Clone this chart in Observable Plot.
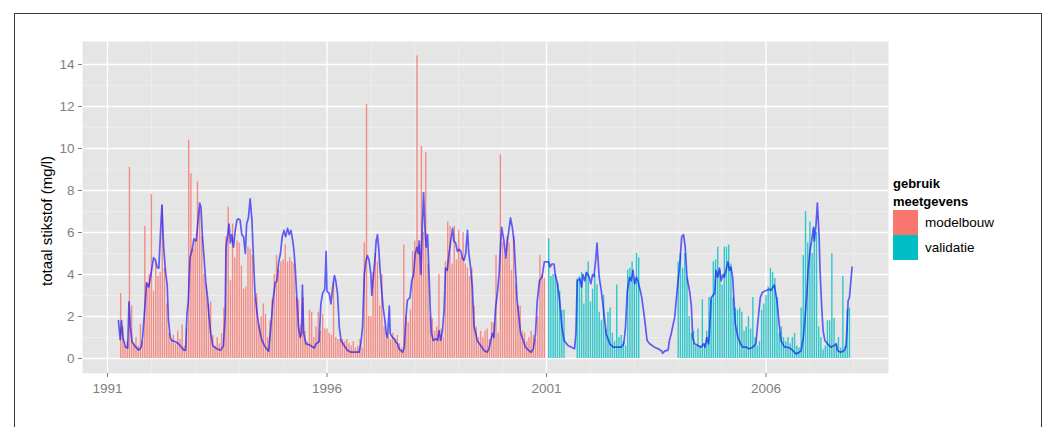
<!DOCTYPE html>
<html><head><meta charset="utf-8">
<script src="https://cdn.jsdelivr.net/npm/d3@7"></script>
<script src="https://cdn.jsdelivr.net/npm/@observablehq/plot@0.6"></script>
<style>
html,body{margin:0;padding:0;background:#fff;}
#wrap{position:relative;width:1053px;height:427px;overflow:hidden;font-family:"Liberation Sans",Arial,sans-serif;}
#border{position:absolute;left:14px;top:13px;width:1028px;height:440px;border:1.5px solid #3a3a3a;box-sizing:border-box;}
#chart{position:absolute;left:0;top:0;}
#ylab{position:absolute;left:46px;top:221px;transform:translate(-50%,-50%) rotate(-90deg);font-size:15px;white-space:nowrap;color:#000;}
#legtitle{position:absolute;left:893px;top:175px;font-size:13px;font-weight:bold;line-height:18px;color:#000;}
.key{position:absolute;left:893px;width:25px;height:25px;}
.klab{position:absolute;left:925px;font-size:13.5px;color:#000;line-height:16px;}
</style>
</head><body>
<div id="wrap">
  <div id="border"></div>
  <div id="chart"></div>
  <div id="ylab">totaal stikstof (mg/l)</div>
  <div id="legtitle">gebruik<br>meetgevens</div>
  <div id="legend"></div>
</div>
<script>
// ---- categories / scales text ----
const groups = ["modelbouw", "validatie"];
const groupColors = ["#F8766D", "#00BFC4"];
const majorYears = [1991, 1996, 2001, 2006];
const minorYears = [1992,1993,1994,1995,1997,1998,1999,2000,2002,2003,2004,2005,2007,2008];
const yTicks = [0, 2, 4, 6, 8, 10, 12, 14];
const yMinor = [1, 3, 5, 7, 9, 11, 13];
const splitYear = 2001; // measurements before: modelbouw, after: validatie

// ---- measured values (bars), 20 samples per year (step 0.05 yr) ----
const barStep = 0.05;
const bars1991 = [null,null,null,null,null,null,3.1,1.5,0.6,0.8,9.1,2.5,0.7,1.0,0.6,1.6,0.8,6.3,3.6,4.0];
const bars1992 = [7.8,3.2,4.5,3.9,4.1,7.3,4.3,2.6,1.2,0.9,1.1,0.7,1.3,0.9,1.6,0.6,1.4,10.4,8.8,5.2];
const bars1993 = [5.6,8.4,7.1,5.8,4.0,3.5,2.6,2.7,1.1,0.6,1.0,0.7,1.2,2.4,5.8,7.2,3.7,6.4,4.8,5.6];
const bars1994 = [5.5,4.4,3.3,3.4,5.3,5.2,4.9,2.9,3.1,1.6,2.0,2.6,2.1,1.0,1.8,2.8,4.0,4.9,4.2,4.6];
const bars1995 = [4.7,5.4,4.6,4.8,4.6,4.5,2.9,2.8,1.6,2.9,1.3,0.8,2.3,2.2,1.0,1.5,2.2,1.3,2.1,1.4];
const bars1996 = [1.4,1.2,1.1,3.6,1.0,0.9,0.9,0.9,0.8,0.9,0.7,0.6,0.8,0.5,0.6,0.9,0.5,5.5,12.1,2.0];
const bars1997 = [2.0,4.1,5.0,4.6,2.5,4.0,1.5,1.2,1.0,0.9,1.2,0.9,1.1,0.7,0.5,5.4,2.0,1.7,2.3,5.1];
const bars1998 = [5.6,14.4,5.4,10.1,6.0,9.8,4.5,2.0,1.9,1.3,1.5,4.0,1.4,1.0,4.6,6.5,6.3,4.5,6.3,4.7];
const bars1999 = [6.1,4.8,6.0,4.5,4.3,3.9,4.3,2.5,1.5,1.0,1.3,1.0,1.3,1.4,0.9,1.7,1.7,4.9,1.2,9.7];
const bars2000 = [5.5,4.8,5.8,5.5,4.2,5.8,3.5,2.5,2.5,1.3,1.2,0.8,1.0,1.3,1.1,0.9,2.0,4.9,4.0,3.8];
const bars2001 = [null,5.7,3.9,4.0,4.0,3.6,3.2,2.3,2.3,null,null,null,null,null,3.8,3.9,4.1,2.6,4.1,4.6];
const bars2002 = [2.7,3.3,4.0,3.5,2.2,1.8,3.0,1.4,2.2,2.4,1.2,0.8,3.5,1.0,1.1,0.8,0.6,4.2,4.3,4.6];
const bars2003 = [3.8,5.0,4.8,null,null,null,null,null,null,null,null,null,null,null,null,null,null,null,null,null];
const bars2004 = [4.6,5.0,4.3,5.0,3.8,2.0,1.2,1.3,0.6,1.4,0.6,2.8,0.7,1.3,2.9,2.8,4.6,4.7,5.3,4.2];
const bars2005 = [3.5,5.3,5.3,5.4,4.5,2.9,2.4,2.3,2.4,2.2,1.3,1.5,2.0,1.4,2.9,1.0,0.6,0.8,2.3,2.6];
const bars2006 = [3.0,3.4,4.3,4.1,3.8,2.9,1.2,1.5,1.0,0.8,1.0,0.7,1.0,1.2,0.6,0.5,2.4,4.9,7.0,5.5];
const bars2007 = [6.5,5.0,6.2,6.0,1.5,1.0,0.4,0.6,1.8,1.8,5.0,1.9,0.7,1.0,0.5,3.9,0.6,2.3,2.4,null];
const barYears = [
  [1991,bars1991],[1992,bars1992],[1993,bars1993],[1994,bars1994],[1995,bars1995],
  [1996,bars1996],[1997,bars1997],[1998,bars1998],[1999,bars1999],[2000,bars2000],
  [2001,bars2001],[2002,bars2002],[2003,bars2003],[2004,bars2004],[2005,bars2005],
  [2006,bars2006],[2007,bars2007]
];

// ---- simulated concentration (line), [decimal year, value] ----
const line1991 = [[1991.25,1.8],[1991.29,0.9],[1991.32,1.8],[1991.35,1.0],[1991.41,0.55],[1991.46,0.5],[1991.49,2.7],[1991.52,1.5],[1991.56,0.8],[1991.64,0.55],[1991.71,0.4],[1991.77,0.55],[1991.80,1.0],[1991.85,2.4],[1991.89,3.6],[1991.94,3.4],[1991.98,3.9]];
const line1992 = [[1992.02,4.4],[1992.05,4.8],[1992.09,4.7],[1992.13,4.35],[1992.17,4.3],[1992.21,6.1],[1992.24,7.3],[1992.28,5.3],[1992.32,4.2],[1992.36,3.5],[1992.39,1.8],[1992.43,1.0],[1992.47,0.85],[1992.55,0.8],[1992.62,0.7],[1992.68,0.55],[1992.74,0.4],[1992.78,0.4],[1992.81,2.1],[1992.84,2.7],[1992.88,4.8],[1992.93,5.2],[1992.97,5.7]];
const line1993 = [[1993.02,5.6],[1993.06,6.5],[1993.10,7.4],[1993.13,7.2],[1993.16,5.9],[1993.21,4.5],[1993.24,3.6],[1993.28,2.9],[1993.31,2.1],[1993.35,1.2],[1993.40,0.6],[1993.50,0.45],[1993.58,0.4],[1993.64,0.6],[1993.68,2.0],[1993.70,5.3],[1993.74,5.9],[1993.77,6.4],[1993.80,5.5],[1993.83,5.9],[1993.87,5.3],[1993.91,6.1],[1993.95,6.6],[1993.98,6.65]];
const line1994 = [[1994.02,6.6],[1994.06,5.9],[1994.10,5.8],[1994.14,5.0],[1994.17,6.4],[1994.21,6.7],[1994.25,7.6],[1994.29,6.6],[1994.33,4.5],[1994.36,3.1],[1994.40,2.3],[1994.44,1.65],[1994.48,1.2],[1994.52,0.85],[1994.59,0.55],[1994.67,0.35],[1994.70,1.0],[1994.74,2.0],[1994.77,2.8],[1994.82,3.6],[1994.86,3.7],[1994.90,4.6],[1994.94,5.0],[1994.98,5.8]];
const line1995 = [[1995.02,6.1],[1995.06,5.8],[1995.10,6.2],[1995.14,5.9],[1995.18,6.1],[1995.22,5.6],[1995.25,5.1],[1995.28,4.2],[1995.31,3.0],[1995.35,1.5],[1995.39,1.0],[1995.42,1.2],[1995.44,3.5],[1995.47,1.2],[1995.52,0.7],[1995.60,0.65],[1995.71,0.5],[1995.75,0.7],[1995.82,0.8],[1995.86,2.6],[1995.90,3.1],[1995.95,3.3],[1995.98,5.1]];
const line1996 = [[1996.00,3.2],[1996.05,3.1],[1996.09,2.6],[1996.13,3.4],[1996.17,3.95],[1996.20,3.7],[1996.24,3.1],[1996.28,1.5],[1996.32,0.86],[1996.39,0.62],[1996.47,0.38],[1996.55,0.3],[1996.66,0.3],[1996.73,0.3],[1996.77,0.7],[1996.81,1.5],[1996.85,4.0],[1996.89,4.67],[1996.92,4.9],[1996.96,4.67]];
const line1997 = [[1997.00,4.0],[1997.02,3.0],[1997.06,4.0],[1997.09,4.67],[1997.12,5.6],[1997.15,5.9],[1997.18,5.2],[1997.21,4.2],[1997.24,3.4],[1997.28,2.4],[1997.32,1.8],[1997.35,1.2],[1997.38,1.0],[1997.42,2.5],[1997.44,1.2],[1997.49,1.0],[1997.53,0.95],[1997.57,0.78],[1997.61,0.7],[1997.64,0.46],[1997.72,0.3],[1997.76,0.5],[1997.80,2.0],[1997.83,2.76],[1997.89,2.9],[1997.93,3.7],[1997.97,3.95]];
const line1998 = [[1998.01,5.0],[1998.05,5.3],[1998.08,5.0],[1998.10,5.6],[1998.14,4.0],[1998.17,6.25],[1998.20,7.9],[1998.23,6.25],[1998.26,5.3],[1998.29,5.9],[1998.33,3.7],[1998.35,2.4],[1998.38,1.2],[1998.42,0.86],[1998.48,0.94],[1998.52,0.86],[1998.55,1.33],[1998.59,0.86],[1998.63,1.3],[1998.67,2.4],[1998.70,4.3],[1998.74,4.2],[1998.78,5.0],[1998.82,5.6],[1998.86,6.2],[1998.89,5.6],[1998.93,5.5],[1998.97,5.1]];
const line1999 = [[1999.01,5.2],[1999.05,5.1],[1999.08,4.8],[1999.12,4.67],[1999.16,5.0],[1999.20,6.1],[1999.23,5.0],[1999.27,4.35],[1999.31,3.4],[1999.35,1.5],[1999.39,1.2],[1999.42,0.86],[1999.50,0.62],[1999.58,0.38],[1999.65,0.3],[1999.69,0.46],[1999.73,0.86],[1999.77,1.2],[1999.80,1.0],[1999.84,2.4],[1999.88,3.1],[1999.92,4.0],[1999.95,5.3],[1999.98,6.25]];
const line2000 = [[2000.03,5.6],[2000.07,4.8],[2000.11,5.6],[2000.18,6.7],[2000.22,6.25],[2000.26,5.6],[2000.30,4.0],[2000.33,2.8],[2000.37,2.0],[2000.41,1.2],[2000.47,0.86],[2000.52,0.54],[2000.60,0.38],[2000.65,0.3],[2000.70,0.46],[2000.75,1.2],[2000.79,2.76],[2000.84,3.7],[2000.90,3.9],[2000.95,4.6]];
const line2001 = [[2001.05,4.6],[2001.08,4.35],[2001.12,4.5],[2001.17,4.5],[2001.20,4.0],[2001.25,3.56],[2001.30,2.76],[2001.35,1.5],[2001.40,0.86],[2001.49,0.62],[2001.57,0.54],[2001.64,0.46],[2001.67,1.2],[2001.70,3.7],[2001.76,3.8],[2001.80,3.4],[2001.83,4.0],[2001.87,3.7],[2001.91,4.1],[2001.97,3.9]];
const line2002 = [[2002.01,3.56],[2002.05,4.0],[2002.08,3.9],[2002.12,4.67],[2002.15,5.5],[2002.20,3.87],[2002.25,3.2],[2002.30,2.3],[2002.36,1.17],[2002.44,0.7],[2002.52,0.54],[2002.63,0.54],[2002.70,0.54],[2002.76,0.7],[2002.80,1.5],[2002.84,3.2],[2002.89,3.87],[2002.93,3.7],[2002.97,4.2]];
const line2003 = [[2003.01,3.56],[2003.05,3.87],[2003.08,3.7],[2003.14,3.2],[2003.17,2.9],[2003.23,1.97],[2003.29,0.86],[2003.35,0.7],[2003.46,0.54],[2003.54,0.46],[2003.61,0.38],[2003.65,0.25],[2003.69,0.35],[2003.77,0.4],[2003.80,0.86],[2003.84,1.17],[2003.92,1.97],[2003.99,3.56]];
const line2004 = [[2004.03,4.35],[2004.08,5.8],[2004.12,5.9],[2004.16,5.3],[2004.20,3.87],[2004.26,3.2],[2004.30,2.5],[2004.33,1.0],[2004.37,0.7],[2004.45,0.62],[2004.52,0.54],[2004.58,0.7],[2004.61,0.54],[2004.65,1.0],[2004.69,0.7],[2004.71,1.17],[2004.75,2.9],[2004.79,3.0],[2004.83,3.1],[2004.86,4.2],[2004.90,3.87],[2004.94,4.3],[2004.98,3.7]];
const line2005 = [[2005.02,4.0],[2005.05,3.87],[2005.09,4.2],[2005.13,4.6],[2005.17,4.2],[2005.20,4.35],[2005.24,3.87],[2005.27,2.76],[2005.30,1.65],[2005.36,1.0],[2005.42,0.7],[2005.47,0.54],[2005.55,0.54],[2005.62,0.46],[2005.70,0.54],[2005.77,0.7],[2005.81,1.65],[2005.87,2.9],[2005.92,3.16]];
const line2006 = [[2006.00,3.24],[2006.08,3.3],[2006.11,3.24],[2006.19,3.5],[2006.25,2.76],[2006.30,1.65],[2006.34,0.86],[2006.42,0.54],[2006.49,0.54],[2006.57,0.46],[2006.61,0.38],[2006.68,0.22],[2006.76,0.3],[2006.80,0.38],[2006.85,1.0],[2006.89,1.97],[2006.93,3.1],[2006.96,4.2]];
const line2007 = [[2007.00,5.1],[2007.04,5.6],[2007.08,6.25],[2007.10,5.6],[2007.14,6.4],[2007.17,7.4],[2007.21,5.8],[2007.23,4.2],[2007.27,2.4],[2007.30,1.33],[2007.34,0.86],[2007.40,0.7],[2007.48,0.54],[2007.55,0.62],[2007.60,0.7],[2007.63,0.38],[2007.70,0.3],[2007.78,0.38],[2007.82,0.54],[2007.85,1.65],[2007.87,2.76],[2007.90,2.9],[2007.96,4.35]];
const lineSegments = [line1991,line1992,line1993,line1994,line1995,line1996,line1997,line1998,line1999,line2000,line2001,line2002,line2003,line2004,line2005,line2006,line2007];

// ---- build tables ----
const bars = [];
for (const [yr, vals] of barYears) {
  vals.forEach((v, i) => {
    if (v == null) return;
    const t = yr + i * barStep;
    bars.push({t, v, g: t < splitYear ? groups[0] : groups[1]});
  });
}
const line = lineSegments.flat().map(([t, v]) => ({t, v}));

const chart = Plot.plot({
  width: 1053, height: 427,
  marginLeft: 82, marginRight: 165, marginTop: 41, marginBottom: 54,
  x: {domain: [1990.431, 2008.79]},
  y: {domain: [-0.714, 15.095]},
  color: {domain: groups, range: groupColors},
  style: {background: "transparent", fontFamily: "'Liberation Sans', Arial, sans-serif", color: "#7f7f7f"},
  marks: [
    Plot.frame({fill: "#e5e5e5"}),
    Plot.ruleX(minorYears, {stroke: "#f2f2f2", strokeWidth: 0.6}),
    Plot.ruleY(yMinor, {stroke: "#f2f2f2", strokeWidth: 0.6}),
    Plot.ruleX(majorYears, {stroke: "#ffffff", strokeWidth: 1.3}),
    Plot.ruleY(yTicks, {stroke: "#ffffff", strokeWidth: 1.3}),
    Plot.ruleX(bars, {x: "t", y1: 0, y2: "v", stroke: "g", strokeWidth: 1.4, strokeOpacity: 0.8}),
    Plot.line(line, {x: "t", y: "v", stroke: "#0000ff", strokeWidth: 1.7, strokeOpacity: 0.6}),
    Plot.axisX({ticks: majorYears, tickFormat: d => String(d), tickSize: 4, tickPadding: 6, fontSize: 13.5, label: null}),
    Plot.axisY({ticks: yTicks, tickSize: 4, tickPadding: 4, fontSize: 13.5, label: null})
  ]
});
document.getElementById("chart").appendChild(chart);

// legend keys (colors from the same color scale)
const scale = chart.scale("color");
const legend = document.getElementById("legend");
groups.forEach((g, i) => {
  const k = document.createElement("div");
  k.className = "key";
  k.style.top = (210 + i * 25) + "px";
  k.style.background = scale.apply(g);
  legend.appendChild(k);
  const l = document.createElement("div");
  l.className = "klab";
  l.style.top = (215 + i * 25) + "px";
  l.textContent = g;
  legend.appendChild(l);
});
</script>
</body></html>
